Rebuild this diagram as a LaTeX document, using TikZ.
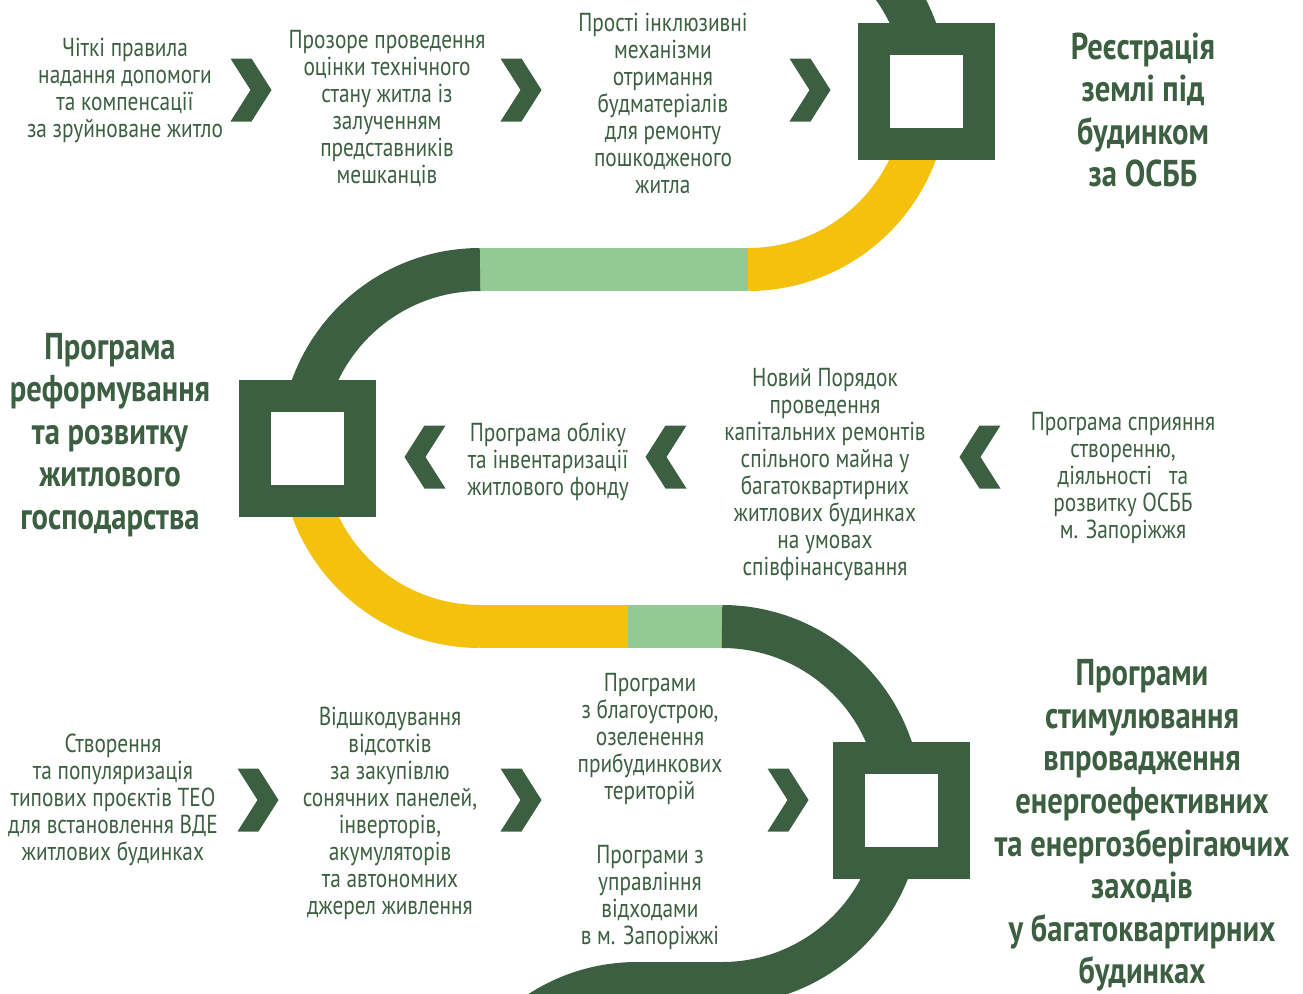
\documentclass[tikz,border=0pt]{standalone}
\usepackage{fontspec}
\setmainfont{PT Sans}[FakeStretch=0.82]
\usetikzlibrary{positioning}

\definecolor{dkgreen}{RGB}{60,95,65}
\definecolor{ltgreen}{RGB}{149,201,148}
\definecolor{gold}{RGB}{244,194,13}

\tikzset{
 track/.style={line width=32.25pt},
 sqbox/.style={draw=dkgreen, fill=white, line width=24pt, minimum size=78.75pt, inner sep=0pt},
 txt/.style={text=dkgreen, align=center, inner sep=0pt, font=\fontsize{19.5}{20.25}\selectfont},
 head/.style={text=dkgreen, align=center, inner sep=0pt, font=\bfseries\fontsize{28}{31.9}\selectfont},
 chev/.pic={\fill[dkgreen] (-20.5,-31.5) -- (0.5,-31.5) -- (20.5,0) -- (0.5,31.5) -- (-20.5,31.5) -- (-0.5,0) -- cycle;}
}

\begin{document}
\begin{tikzpicture}[x=0.75pt, y=-0.75pt]
 \useasboundingbox (0,0) rectangle (1303,993);
 \begin{scope}
  \clip (0,0) rectangle (1303,993);
  \draw[track,dkgreen] (748,-87.5) arc[start angle=-90, end angle=0, radius=178.5];
  \draw[track,gold] (926.5,91) arc[start angle=0, end angle=90, radius=178.5];
  \draw[track,ltgreen] (748,269.5) -- (480,269.5);
  \draw[track,dkgreen] (480,269.5) arc[start angle=-90, end angle=-180, radius=178.5];
  \draw[track,gold] (301.5,448) arc[start angle=180, end angle=90, radius=178.5];
  \draw[track,gold] (480,626.5) -- (628,626.5);
  \draw[track,ltgreen] (628,626.5) -- (722,626.5);
  \draw[track,dkgreen] (722,626.5) arc[start angle=-90, end angle=90, radius=178.5]
   -- (637,983.5) arc[start angle=-90, end angle=-180, radius=178.5];
 \end{scope}

 \node[sqbox] (sqland) at (926.5,91) {};
 \node[sqbox] (sqreform) at (307.5,448) {};
 \node[sqbox] (sqenergy) at (901.5,810.5) {};

 \pic at (251,90) {chev};
 \pic at (521,90) {chev};
 \pic at (810,90) {chev};
 \pic[xscale=-1] at (425,457) {chev};
 \pic[xscale=-1] at (666,457) {chev};
 \pic[xscale=-1] at (980,457) {chev};
 \pic at (258,800) {chev};
 \pic at (521,800) {chev};
 \pic at (788,800) {chev};

 \node[txt] (rules) at (125,90.5) {Чіткі правила\\надання допомоги\\та компенсації\\за зруйноване житло};
 \node[txt] (assess) at (387,109) {Прозоре проведення\\оцінки технічного\\стану житла із\\залученням\\представників\\мешканців};
 \node[txt] (materials) at (663,103.5) {Прості інклюзивні\\механізми\\отримання\\будматеріалів\\для ремонту\\пошкодженого\\житла};
 \node[head] (landreg) at (1143,110) {Реєстрація\\землі під\\будинком\\за ОСББ};

 \node[head] (reform) at (110,435) {Програма\\реформування\\та розвитку\\житлового\\господарства};
 \node[txt] (inventory) at (548,462) {Програма обліку\\та інвентаризації\\житлового фонду};
 \node[txt] (repairs) at (825,474.5) {Новий Порядок\\проведення\\капітальних ремонтів\\спільного майна у\\багатоквартирних\\житлових будинках\\на умовах\\співфінансування};
 \node[txt] (osbb) at (1123,478) {Програма сприяння\\створенню,\\діяльності\ \ \ та\\розвитку ОСББ\\м. Запоріжжя};

 \node[txt] (teo) at (113,800) {Створення\\та популяризація\\типових проєктів ТЕО\\для встановлення ВДЕ\\житлових будинках};
 \node[txt] (solar) at (390,813.5) {Відшкодування\\відсотків\\за закупівлю\\сонячних панелей,\\інверторів,\\акумуляторів\\та автономних\\джерел живлення};
 \node[txt] (improve) at (650,739) {Програми\\з благоустрою,\\озеленення\\прибудинкових\\територій};
 \node[txt] (waste) at (650,897.5) {Програми з\\управління\\відходами\\в м. Запоріжжі};
 \node[head] (energy) at (1142,825.5) {Програми\\стимулювання\\впровадження\\енергоефективних\\та енергозберігаючих\\заходів\\у багатоквартирних\\будинках};
\end{tikzpicture}
\end{document}
